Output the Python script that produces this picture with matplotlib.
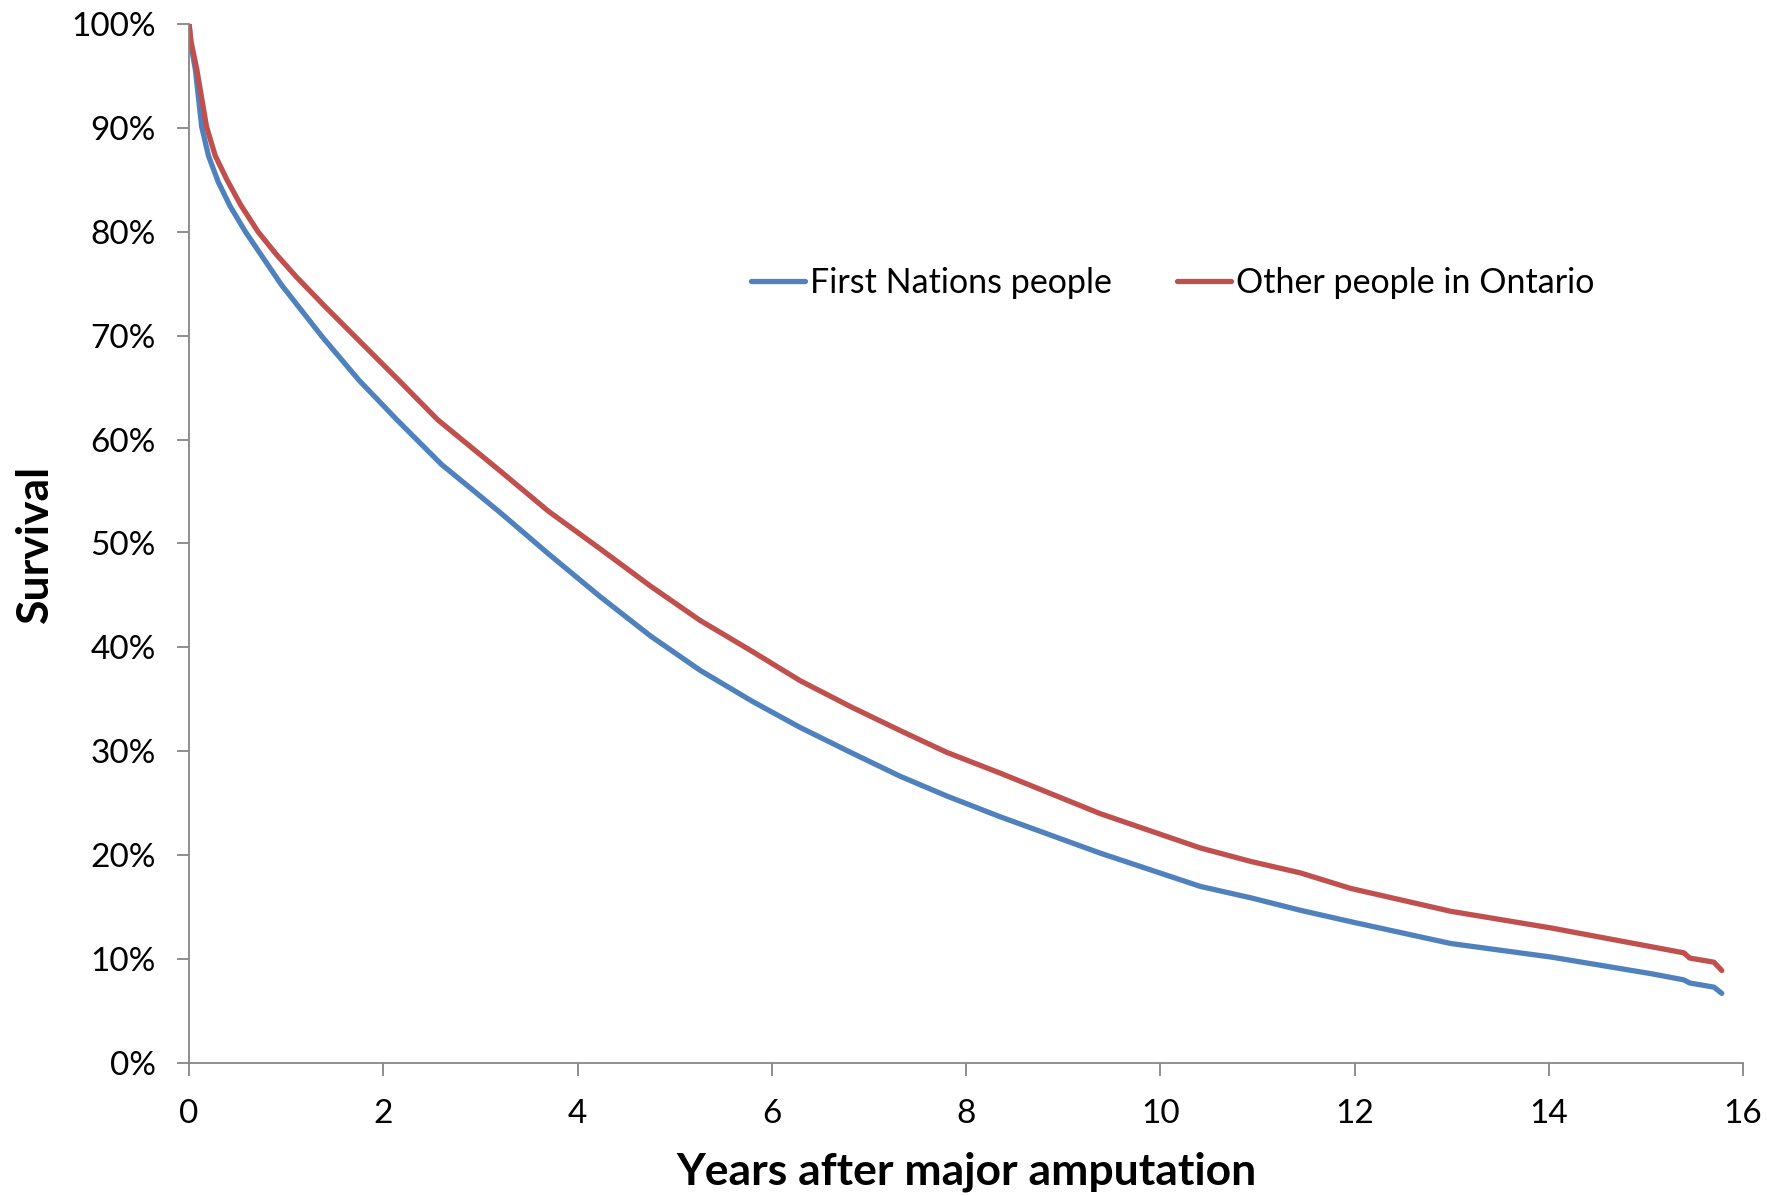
import matplotlib
matplotlib.use("Agg")
import matplotlib.pyplot as plt
from matplotlib.ticker import FuncFormatter

# Survival data (years, percent)
fn_years = [0, 0.02, 0.065, 0.13, 0.20, 0.30, 0.42, 0.58, 0.95, 1.37, 1.75, 2.14, 2.6,
            3.20, 3.7, 4.23, 4.75, 5.26, 5.8, 6.29, 6.81, 7.32, 7.8, 8.35, 9.38, 10.41,
            10.93, 11.44, 11.96, 12.99, 14.02, 15.05, 15.39, 15.45, 15.70, 15.78]
fn_surv = [100, 98.0, 95.6, 90.1, 87.3, 84.8, 82.5, 80.0, 74.9, 69.9, 65.7, 61.9, 57.6,
           53.0, 49.0, 44.9, 41.1, 37.8, 34.8, 32.3, 29.9, 27.6, 25.7, 23.7, 20.2, 17.0,
           15.9, 14.7, 13.6, 11.5, 10.2, 8.6, 8.0, 7.7, 7.3, 6.7]

ot_years = [0, 0.02, 0.08, 0.18, 0.27, 0.39, 0.53, 0.71, 0.9, 1.1, 1.4, 1.71, 2.17, 2.56,
            3.20, 3.7, 4.23, 4.75, 5.26, 5.8, 6.29, 6.81, 7.32, 7.8, 8.35, 9.38, 10.41,
            10.93, 11.44, 11.96, 12.99, 14.02, 15.05, 15.39, 15.45, 15.70, 15.78]
ot_surv = [100, 98.3, 95.6, 90.1, 87.3, 85.0, 82.6, 80.0, 77.8, 75.7, 72.8, 69.9, 65.6,
           61.9, 57.0, 53.1, 49.5, 45.9, 42.6, 39.6, 36.8, 34.3, 32.0, 29.9, 27.9, 24.0,
           20.7, 19.4, 18.3, 16.8, 14.6, 13.0, 11.2, 10.6, 10.1, 9.7, 8.9]

series_labels = ["First Nations people", "Other people in Ontario"]
x_ticks = [0, 2, 4, 6, 8, 10, 12, 14, 16]
y_ticks = [0, 10, 20, 30, 40, 50, 60, 70, 80, 90, 100]

plt.rcParams['font.family'] = ['Lato', 'DejaVu Sans']

fig = plt.figure(figsize=(17.67, 11.96), dpi=100)
ax = fig.add_axes([0.107, 0.1112, 0.8795, 0.8688])

ax.plot(fn_years, fn_surv, color='#4F81BD', lw=3.8, label=series_labels[0],
        solid_capstyle='round', solid_joinstyle='round')
ax.plot(ot_years, ot_surv, color='#C0504D', lw=3.8, label=series_labels[1],
        solid_capstyle='round', solid_joinstyle='round')

ax.set_xlim(0, 16)
ax.set_ylim(0, 100)
ax.set_xticks(x_ticks)
ax.set_yticks(y_ticks)
ax.yaxis.set_major_formatter(FuncFormatter(lambda v, p: f"{int(v)}%"))

gray = '#868686'
for s in ['top', 'right']:
    ax.spines[s].set_visible(False)
for s in ['left', 'bottom']:
    ax.spines[s].set_color(gray)
    ax.spines[s].set_linewidth(1.3)
ax.tick_params(axis='both', direction='out', length=9, width=1.3, color=gray,
               labelsize=24, labelcolor='black')
ax.tick_params(axis='x', pad=17)
ax.tick_params(axis='y', pad=15)

ax.set_xlabel("Years after major amputation", fontsize=32, fontweight='bold', labelpad=16)
ax.set_ylabel("Survival", fontsize=32, fontweight='bold', labelpad=12)

leg = ax.legend(loc='center', bbox_to_anchor=(0.633, 0.751), ncol=2, frameon=False,
                fontsize=24.5, handlelength=1.6, handletextpad=0.15, columnspacing=1.9)

fig.savefig("out.png", dpi=100, facecolor='white')
